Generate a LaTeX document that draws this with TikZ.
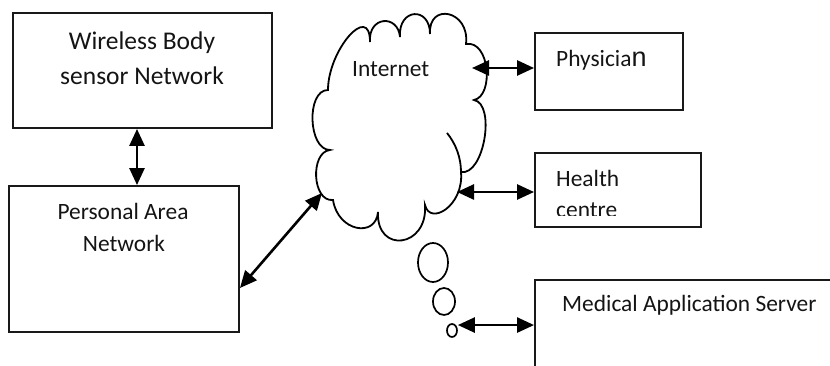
\documentclass[tikz,border=0pt]{standalone}
\usepackage{fontspec}
\setmainfont{Carlito}
\newfontfamily\oddfont{Liberation Sans}
\usetikzlibrary{arrows.meta,shapes.geometric}
\begin{document}
\begin{tikzpicture}[x=1pt,y=1pt,
  box/.style={draw=black!90, line width=1.9pt, rectangle, inner sep=0pt},
  lbl/.style={font=\fontsize{23.4}{28}\selectfont, inner sep=0pt, text=black!92},
  biglbl/.style={font=\fontsize{25.5}{30}\selectfont, inner sep=0pt, text=black!92},
  link/.style={line width=2.6pt, {Triangle[length=17pt,width=15pt]}-{Triangle[length=17pt,width=15pt]}},
  cloudline/.style={line width=1.8pt},
  bubble/.style={draw, ellipse, line width=1.7pt, inner sep=0pt}]
\useasboundingbox (0,0) rectangle (830,366);
\clip (0,0) rectangle (830,366);

% boxes
\node[box, minimum width=259pt, minimum height=115pt] (wbsn) at (142.5,295.5) {};
\node[box, minimum width=230pt, minimum height=146pt] (pan) at (124,107) {};
\node[box, minimum width=148pt, minimum height=77pt] (phys) at (609,294.5) {};
\node[box, minimum width=166pt, minimum height=74pt] (health) at (618,176) {};
\node[box, minimum width=365pt, minimum height=136pt] (mas) at (717.5,18) {};

% labels
\node[biglbl, anchor=base] (wbsn1) at (142,316) {Wireless Body};
\node[biglbl, anchor=base] (wbsn2) at (142,281) {sensor Network};
\node[lbl, anchor=base] (pan1) at (123,146) {Personal Area};
\node[lbl, anchor=base] (pan2) at (124,114) {Network};
\node[lbl, anchor=base west] (physt) at (556,299) {Physicia{\oddfont\fontsize{27}{30}\selectfont n}};
\node[lbl, anchor=base west] (health1) at (556,179) {Health};
\begin{scope}
  \clip (530,150.5) rectangle (700,200);
  \node[lbl, anchor=base west] (health2) at (556,148.5) {centre};
\end{scope}
\node[lbl, anchor=base west] (mast) at (562,54) {Medical Application Server};

% cloud
\draw[cloudline] (328,276)
  .. controls (328,316) and (370,364) .. (370,324)
  .. controls (368,350) and (398,352) .. (400,329)
  .. controls (398,358) and (430,360) .. (430,332)
  .. controls (428,364) and (470,356) .. (466,322)
  .. controls (490,326) and (494,270) .. (474,266)
  .. controls (496,262) and (484,190) .. (461,194)
  .. controls (464,160) and (430,140) .. (425,161)
  .. controls (428,118) and (376,112) .. (378,154)
  .. controls (376,128) and (338,134) .. (333,166)
  .. controls (312,164) and (310,214) .. (330,216)
  .. controls (308,216) and (306,276) .. (328,276) -- cycle;
\draw[cloudline] (447,233) .. controls (456,222) and (461,208) .. (461,194);
\node[lbl, anchor=base west] (internet) at (352,289) {Internet};

% thought bubbles
\node[bubble, minimum width=30pt, minimum height=39pt] (bigc) at (433,103.5) {};
\node[bubble, minimum width=22pt, minimum height=27pt] (midc) at (444,64.5) {};
\node[bubble, minimum width=10pt, minimum height=13pt] (smallc) at (452,35.5) {};

% anchor points on the cloud
\coordinate (cphys) at (472,298);
\coordinate (chealth) at (457,174);
\coordinate (cpan) at (322,173);
\coordinate (masin) at ([yshift=-46pt]mas.north west);

% connectors
\draw[link] ([xshift=-5.5pt]wbsn.south) -- ([xshift=13pt]pan.north);
\draw[link] ([yshift=-29pt]pan.east) -- (cpan);
\draw[link] (cphys) -- ([yshift=3.5pt]phys.west);
\draw[link] (chealth) -- ([yshift=-2pt]health.west);
\draw[link] (smallc.east |- masin) -- (masin);
\end{tikzpicture}
\end{document}
